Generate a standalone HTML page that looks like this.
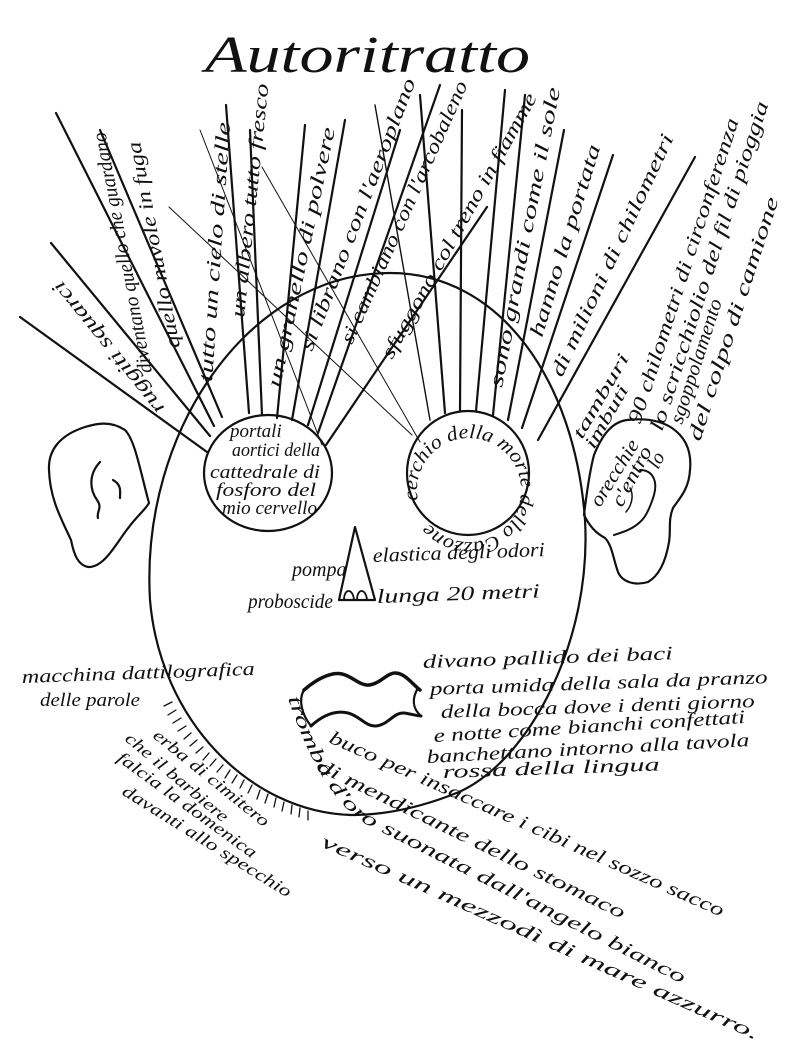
<!DOCTYPE html>
<html><head><meta charset="utf-8"><style>
html,body{margin:0;padding:0;background:#fff;}
svg{display:block}
text{font-family:"Liberation Serif",serif;font-style:italic;fill:#111;}
</style></head><body>
<svg width="802" height="1054" viewBox="0 0 802 1054" xmlns="http://www.w3.org/2000/svg">
<defs>
<path id="eyeR" d="M418 500 A52 52 0 1 1 418.1 500.5"/>
<path id="tromba" d="M288 698 Q318 790 362 822 L708 997"/>
</defs>
<g fill="none" stroke="#111" stroke-width="2.2" stroke-linecap="round" stroke-linejoin="round">
<path d="M351 815 C250 812 160 720 150 600 C140 430 250 273 390 273 C500 273 575 380 585 520 C592 640 530 760 459 792 C420 808 385 815 351 815 Z"/>
<ellipse cx="268" cy="473" rx="64" ry="58"/>
<ellipse cx="468" cy="473" rx="61" ry="62"/>
<path d="M149 503 C140 470 135 440 125 430 C110 420 95 424 85 427 C60 435 48 450 49 470 C50 500 62 520 71 540 C74 555 78 565 88 567 C105 568 118 540 129 527 C138 515 145 510 149 503"/>
<path d="M100 462 C88 475 90 490 97 500 C103 508 96 512 98 518"/>
<path d="M113 480 C122 485 120 492 120 498"/>
<path d="M584 515 C587 490 590 470 594 455 C602 435 612 422 627 420 C645 418 660 420 672 428 C685 437 692 450 690 470 C689 490 678 500 673 508 C668 520 671 530 669 542 C666 560 660 575 648 582 C635 586 622 582 618 572 C613 558 612 545 605 538 C596 533 590 527 584 515"/>
<path d="M640 470 C652 470 658 480 654 495 C650 508 645 518 640 522 C632 530 620 533 614 535" stroke-width="2"/>
<path d="M630 488 C634 495 632 505 626 512" stroke-width="1.5"/>
<path d="M355 527 L339 600 L375 600 Z"/>
<path d="M344 600 C344 588 353 588 354 600 M357 600 C357 588 366 588 367 600" stroke-width="1.8"/>
<path d="M304 690 C320 676 334 672 342 674 C352 676 360 686 369 685 C380 684 388 672 396 673 C406 674 412 684 420 690" stroke-width="3.5"/>
<path d="M304 690 C298 700 302 715 311 726"/>
<path d="M418 688 C412 698 412 708 421 716"/>
<path d="M311 726 C322 716 335 710 348 713 C360 716 366 727 376 726 C388 725 394 712 404 713 C412 714 417 716 421 716" stroke-width="3"/>
<g stroke-width="1.3">
<path d="M172 702 l-8 4 M176 710 l-8 5 M181 718 l-8 5 M186 726 l-8 5 M191 733 l-7 6 M197 740 l-7 6 M203 747 l-7 6 M209 753 l-6 7 M216 759 l-6 7 M223 765 l-6 7 M230 770 l-5 8 M237 775 l-5 8 M244 780 l-4 8 M252 785 l-4 8 M260 790 l-3 9 M268 794 l-3 9 M276 798 l-2 9 M284 802 l-2 9 M292 805 l-1 9 M300 808 l-1 9 M308 811 l0 9"/>
</g>
<path d="M207 452 L20 317"/>
<path d="M210 436 L51 243"/>
<path d="M214 426 L56 113"/>
<path d="M222 417 L100 130"/>
<path d="M249 413 L226 105"/>
<path d="M262 415 L250 130"/>
<path d="M277 418 L305 125"/>
<path d="M292 420 L345 120"/>
<path d="M308 425 L400 130"/>
<path d="M318 433 L440 85"/>
<path d="M326 445 L487 207"/>
<path d="M169 207 L412 435" stroke-width="1"/>
<path d="M262 167 L420 442" stroke-width="1"/>
<path d="M200 130 L322 445" stroke-width="1"/>
<path d="M430 420 L375 105" stroke-width="1.4"/>
<path d="M445 413 L420 95"/>
<path d="M460 411 L462 110"/>
<path d="M476 411 L505 90"/>
<path d="M493 415 L525 95"/>
<path d="M508 420 L564 130"/>
<path d="M522 428 L613 155"/>
<path d="M538 440 L695 157"/>
</g>
<text x="205" y="72" font-size="52" textLength="325" lengthAdjust="spacingAndGlyphs">Autoritratto</text>
<g font-size="20">
<text transform="translate(165,408) rotate(-129)" textLength="165" lengthAdjust="spacingAndGlyphs">ruggiti squarci</text>
<text transform="translate(152,372) rotate(-101)" textLength="245" lengthAdjust="spacingAndGlyphs">diventano quello che guardano</text>
<text transform="translate(180,347) rotate(-101)" textLength="210" lengthAdjust="spacingAndGlyphs">quello nuvole in fuga</text>
<text transform="translate(212,382) rotate(-86)" textLength="260" lengthAdjust="spacingAndGlyphs">tutto un cielo di stelle</text>
<text transform="translate(244,318) rotate(-84)" textLength="235" lengthAdjust="spacingAndGlyphs">un albero tutto fresco</text>
<text transform="translate(280,388) rotate(-78)" textLength="265" lengthAdjust="spacingAndGlyphs">un granello di polvere</text>
<text transform="translate(312,352) rotate(-69)" textLength="290" lengthAdjust="spacingAndGlyphs">si librano con l'aeroplano</text>
<text transform="translate(352,345) rotate(-66)" textLength="285" lengthAdjust="spacingAndGlyphs">si cambiano con l'arcobaleno</text>
<text transform="translate(392,360) rotate(-61)" textLength="300" lengthAdjust="spacingAndGlyphs">sfuggono col treno in fiamme</text>
<text transform="translate(502,388) rotate(-79)" textLength="305" lengthAdjust="spacingAndGlyphs">sono grandi come il sole</text>
<text transform="translate(542,338) rotate(-73)" textLength="200" lengthAdjust="spacingAndGlyphs">hanno la portata</text>
<text transform="translate(562,378) rotate(-65)" textLength="265" lengthAdjust="spacingAndGlyphs">di milioni di chilometri</text>
<text transform="translate(582,440) rotate(-60)" font-size="18" textLength="95" lengthAdjust="spacingAndGlyphs">tamburi</text>
<text transform="translate(594,450) rotate(-60)" font-size="18" textLength="70" lengthAdjust="spacingAndGlyphs">imbuti</text>
<text transform="translate(640,425) rotate(-72)" textLength="320" lengthAdjust="spacingAndGlyphs">90 chilometri di circonferenza</text>
<text transform="translate(662,432) rotate(-72)" textLength="345" lengthAdjust="spacingAndGlyphs">lo scricchiolio del fil di pioggia</text>
<text transform="translate(682,425) rotate(-72)" textLength="130" lengthAdjust="spacingAndGlyphs">sgoppolamento</text>
<text transform="translate(700,442) rotate(-72)" textLength="255" lengthAdjust="spacingAndGlyphs">del colpo di camione</text>
<text transform="translate(600,508) rotate(-58)" font-size="20" textLength="75" lengthAdjust="spacingAndGlyphs">orecchie</text>
<text transform="translate(622,508) rotate(-62)" font-size="20" textLength="65" lengthAdjust="spacingAndGlyphs">c'entro</text>
<text transform="translate(658,470) rotate(-62)" font-size="20">lo</text>
</g>
<g font-size="19">
<text x="230" y="437">portali</text>
<text x="232" y="456" textLength="88" lengthAdjust="spacingAndGlyphs">aortici della</text>
<text x="210" y="478" textLength="110" lengthAdjust="spacingAndGlyphs">cattedrale di</text>
<text x="216" y="496" textLength="100" lengthAdjust="spacingAndGlyphs">fosforo del</text>
<text x="222" y="514" textLength="95" lengthAdjust="spacingAndGlyphs">mio cervello</text>
<text font-size="20"><textPath href="#eyeR" textLength="300" lengthAdjust="spacingAndGlyphs">cerchio della morte dello Cazzone</textPath></text>
</g>
<g font-size="20">
<text x="292" y="576">pompa</text>
<text x="373" y="562" textLength="172" lengthAdjust="spacingAndGlyphs" transform="rotate(-2 373 562)">elastica degli odori</text>
<text x="248" y="608" textLength="85" lengthAdjust="spacingAndGlyphs">proboscide</text>
<text x="377" y="603" textLength="163" lengthAdjust="spacingAndGlyphs" transform="rotate(-2 377 603)">lunga 20 metri</text>
</g>
<g font-size="19">
<text transform="translate(22,683) rotate(-2)" textLength="233" lengthAdjust="spacingAndGlyphs">macchina dattilografica</text>
<text x="40" y="706" textLength="100" lengthAdjust="spacingAndGlyphs">delle parole</text>
<text transform="translate(423,668) rotate(-2)" textLength="250" lengthAdjust="spacingAndGlyphs">divano pallido dei baci</text>
<text transform="translate(430,695) rotate(-2)" textLength="338" lengthAdjust="spacingAndGlyphs">porta umida della sala da pranzo</text>
<text transform="translate(441,718) rotate(-2)" textLength="314" lengthAdjust="spacingAndGlyphs">della bocca dove i denti giorno</text>
<text transform="translate(434,742) rotate(-3.5)" textLength="312" lengthAdjust="spacingAndGlyphs">e notte come bianchi confettati</text>
<text transform="translate(427,763) rotate(-3)" textLength="323" lengthAdjust="spacingAndGlyphs">banchettano intorno alla tavola</text>
<text transform="translate(443,778) rotate(-2)" textLength="217" lengthAdjust="spacingAndGlyphs">rossa della lingua</text>
<text transform="translate(328,742) rotate(24)" textLength="430" lengthAdjust="spacingAndGlyphs">buco per insaccare i cibi nel sozzo sacco</text>
<text transform="translate(316,770) rotate(26)" textLength="340" lengthAdjust="spacingAndGlyphs">di mendicante dello stomaco</text>
<text><textPath href="#tromba" textLength="505" lengthAdjust="spacingAndGlyphs">tromba d'oro suonata dall'angelo bianco</textPath></text>
<text transform="translate(320,846) rotate(24)" textLength="477" lengthAdjust="spacingAndGlyphs">verso un mezzodì di mare azzurro.</text>
</g>
<g font-size="17">
<text transform="translate(152,737) rotate(39)" textLength="144" lengthAdjust="spacingAndGlyphs">erba di cimitero</text>
<text transform="translate(124,740) rotate(40)" textLength="129" lengthAdjust="spacingAndGlyphs">che il barbiere</text>
<text transform="translate(116,760) rotate(36)" textLength="168" lengthAdjust="spacingAndGlyphs">falcia la domenica</text>
<text transform="translate(121,794) rotate(32)" textLength="196" lengthAdjust="spacingAndGlyphs">davanti allo specchio</text>
</g>
</svg>
</body></html>
